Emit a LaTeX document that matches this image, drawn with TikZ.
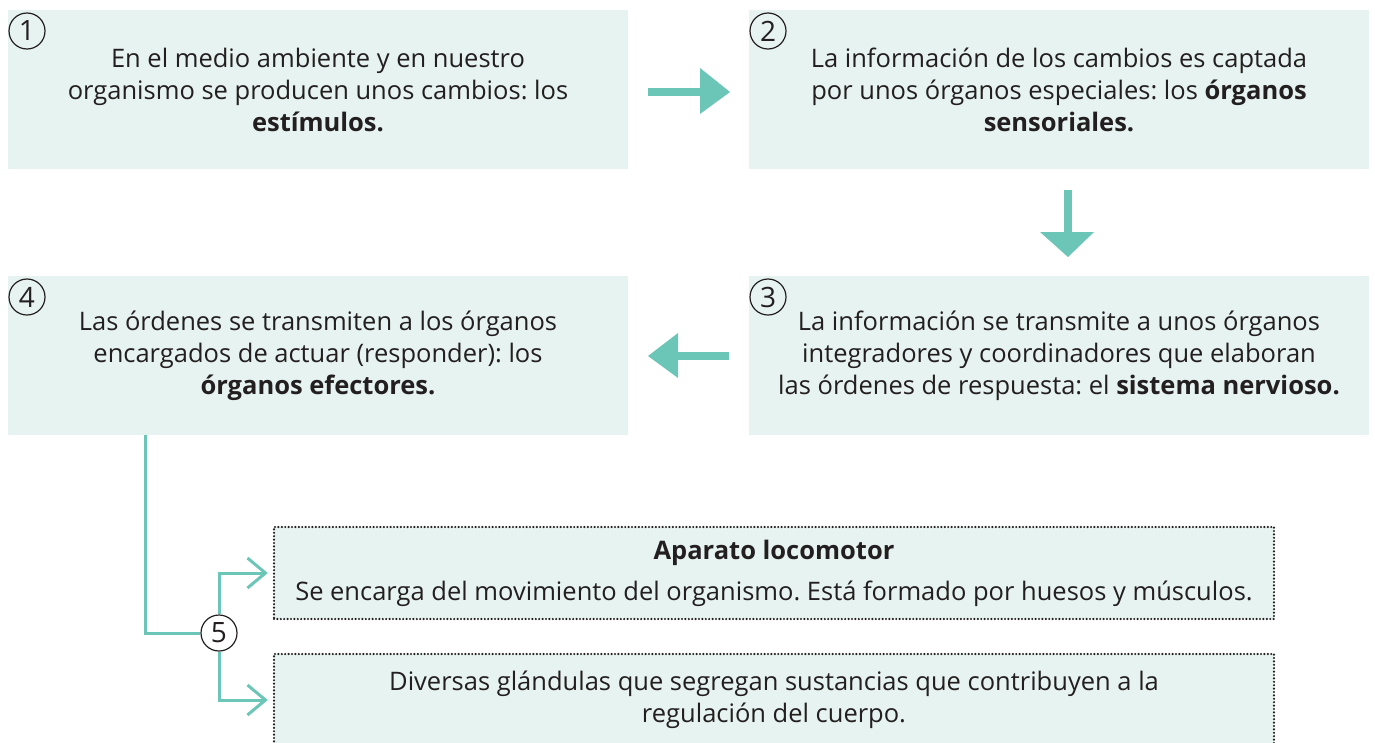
\documentclass[tikz,border=0pt]{standalone}
\usepackage{fontspec}
\setmainfont{Open Sans}
\usetikzlibrary{arrows.meta}
\definecolor{boxfill}{HTML}{E6F3F0}
\definecolor{mint}{HTML}{6CC6B7}
\definecolor{ink}{HTML}{231F20}
\tikzset{
  box/.style={fill=boxfill, draw=none, text=ink, minimum width=620pt, minimum height=159pt, inner sep=0pt, align=center, font=\fontsize{25.5}{32}\selectfont},
  dbox/.style={fill=boxfill, draw=ink, text=ink, line width=2.4pt, dash pattern=on 0pt off 3.4pt, line cap=round, minimum width=1000pt, minimum height=92pt, inner sep=0pt, align=center, font=\fontsize{25.5}{32}\selectfont},
  num/.style={circle, draw=ink, text=ink, line width=1.2pt, minimum size=36pt, inner sep=0pt, font=\fontsize{28}{28}\selectfont},
  bigarrow/.style={mint, line width=8pt},
  conn/.style={draw=mint, line width=3pt},
  tip/.style={-{Straight Barb[length=18pt,width=30pt]}, shorten >=5pt},
}
\begin{document}
\frenchspacing
\begin{tikzpicture}[x=1pt,y=-1pt]
\useasboundingbox (0,0) rectangle (1375,742);
\node[box] (b1) at (318,89.5) {En el medio ambiente y en nuestro\\organismo se producen unos cambios: los\\\textbf{estímulos.}};
\node[box] (b2) at (1059,89.5) {La información de los cambios es captada\\por unos órganos especiales: los \textbf{órganos}\\\textbf{sensoriales.}};
\node[box] (b3) at (1059,355.5) {La información se transmite a unos órganos\\integradores y coordinadores que elaboran\\las órdenes de respuesta: el \textbf{sistema nervioso.}};
\node[box] (b4) at (318,355.5) {Las órdenes se transmiten a los órganos\\encargados de actuar (responder): los\\\textbf{órganos efectores.}};
\node[num] (n1) at (27,31) {1};
\node[num] (n2) at (768,31) {2};
\node[num] (n3) at (768,297) {3};
\node[num] (n4) at (27,297) {4};
\node[dbox] (b5a) at (774,573) {\textbf{Aparato locomotor}\\[9pt]Se encarga del movimiento del organismo. Está formado por huesos y músculos.};
\node[dbox] (b5b) at (774,700) {Diversas glándulas que segregan sustancias que contribuyen a la\\regulación del cuerpo.};
\node[num, fill=white] (n5) at (219,633) {5};
% big arrows
\coordinate (a1s) at (648,92); \coordinate (a1e) at (703,92);
\draw[bigarrow] (a1s) -- (a1e);
\fill[mint] (700,68) -- (730,92) -- (700,114) -- cycle;
\coordinate (a2s) at (1068,190); \coordinate (a2e) at (1068,234);
\draw[bigarrow] (a2s) -- (a2e);
\fill[mint] (1040,232) -- (1068,257) -- (1094,232) -- cycle;
\coordinate (a3s) at (729,356); \coordinate (a3e) at (675,356);
\draw[bigarrow] (a3s) -- (a3e);
\fill[mint] (678,333) -- (648,356) -- (678,378) -- cycle;
% connectors
\draw[conn] ([xshift=138pt]b4.south west) |- (n5.west);
\draw[conn, tip] (n5.north) |- (b5a.west);
\draw[conn, tip] (n5.south) |- (b5b.west);
\end{tikzpicture}
\end{document}
